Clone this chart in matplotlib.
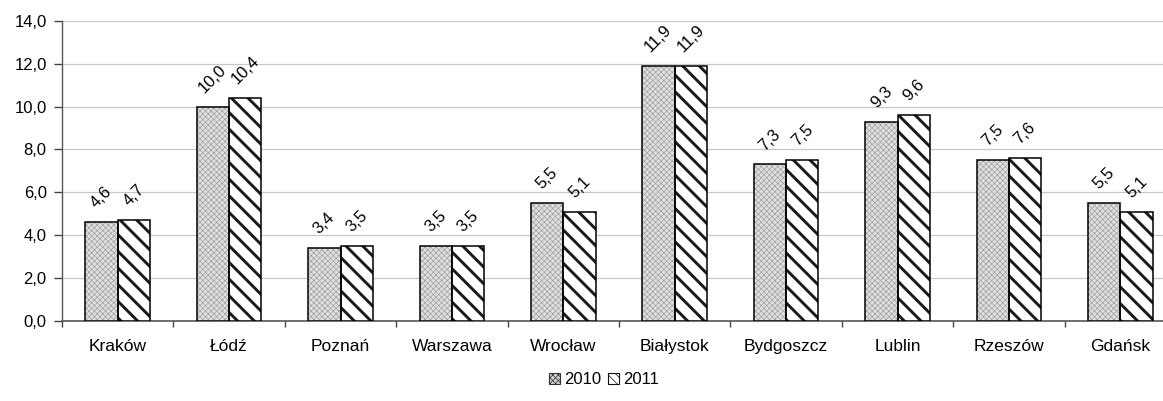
import matplotlib
matplotlib.use("Agg")
import matplotlib.pyplot as plt
import numpy as np
from matplotlib.patches import Patch
from matplotlib.ticker import FuncFormatter, MultipleLocator

plt.rcParams['font.family'] = ['Liberation Sans', 'DejaVu Sans']

categories = ["Kraków", "Łódź", "Poznań", "Warszawa", "Wrocław",
              "Białystok", "Bydgoszcz", "Lublin", "Rzeszów", "Gdańsk"]
values_2010 = [4.6, 10.0, 3.4, 3.5, 5.5, 11.9, 7.3, 9.3, 7.5, 5.5]
values_2011 = [4.7, 10.4, 3.5, 3.5, 5.1, 11.9, 7.5, 9.6, 7.6, 5.1]
series_labels = ["2010", "2011"]

fig = plt.figure(figsize=(11.63, 4.01), dpi=100)
ax = fig.add_axes([62/1163, 0.2, 1114/1163, 0.748])

x = np.arange(len(categories))
w = 0.29


def set_hlw(patches, lw):
    for p in patches:
        if hasattr(p, 'set_hatch_linewidth'):
            p.set_hatch_linewidth(lw)


plt.rcParams['hatch.linewidth'] = 0.5
b1 = ax.bar(x - w/2, values_2010, w, facecolor='#e0e0e0', edgecolor='#a0a0a0',
            hatch='xxxxxx', linewidth=0, zorder=3)
set_hlw(b1, 0.5)
plt.rcParams['hatch.linewidth'] = 2.1
b2 = ax.bar(x + w/2, values_2011, w, facecolor='white', edgecolor='#1a1a1a',
            hatch='\\\\', linewidth=0, zorder=3)
set_hlw(b2, 2.1)
# outlines
ax.bar(x - w/2, values_2010, w, facecolor='none', edgecolor='black', linewidth=1.1, zorder=4)
ax.bar(x + w/2, values_2011, w, facecolor='none', edgecolor='black', linewidth=1.1, zorder=4)

fmt = lambda v: f"{v:.1f}".replace('.', ',')
for xi, v in zip(x - w/2, values_2010):
    ax.annotate(fmt(v), (xi, v), xytext=(0, 8), textcoords='offset points',
                ha='center', va='bottom', rotation=45, fontsize=12)
for xi, v in zip(x + w/2, values_2011):
    ax.annotate(fmt(v), (xi, v), xytext=(0, 8), textcoords='offset points',
                ha='center', va='bottom', rotation=45, fontsize=12)

ax.set_ylim(0, 14)
ax.set_xlim(-0.5, len(categories) - 0.5)
ax.yaxis.set_major_locator(MultipleLocator(2))
ax.yaxis.set_major_formatter(FuncFormatter(lambda v, p: f"{v:.1f}".replace('.', ',')))
ax.grid(axis='y', color='#c8c8c8', linewidth=0.9, zorder=0)
ax.set_axisbelow(True)

ax.set_xticks(x)
ax.set_xticklabels(categories, fontsize=12.5)
ax.tick_params(axis='x', length=0, pad=13)
ax.set_xticks(np.arange(len(categories) + 1) - 0.5, minor=True)
ax.tick_params(axis='x', which='minor', length=4, width=1, color='#444444')
ax.tick_params(axis='y', length=6, width=1, color='#444444', labelsize=12, pad=5)

for s in ['top', 'right']:
    ax.spines[s].set_visible(False)
ax.spines['left'].set_color('#555555')
ax.spines['bottom'].set_color('#555555')
ax.spines['left'].set_linewidth(1)
ax.spines['bottom'].set_linewidth(1.2)

plt.rcParams['hatch.linewidth'] = 0.5
h1 = Patch(facecolor='#d0d0d0', edgecolor='#333333', hatch='xxxxxx', linewidth=0.8)
h2 = Patch(facecolor='white', edgecolor='#111111', hatch='\\\\\\\\', linewidth=0.8)
set_hlw([h1], 0.5)
set_hlw([h2], 1.5)
fig.legend([h1, h2], series_labels, loc='center', bbox_to_anchor=(604/1163, 1 - 380/401),
           ncol=2, frameon=False, fontsize=12, handlelength=0.65, handleheight=0.65,
           handletextpad=0.25, columnspacing=0.4, borderpad=0.2)

fig.savefig("out.png", dpi=100)
